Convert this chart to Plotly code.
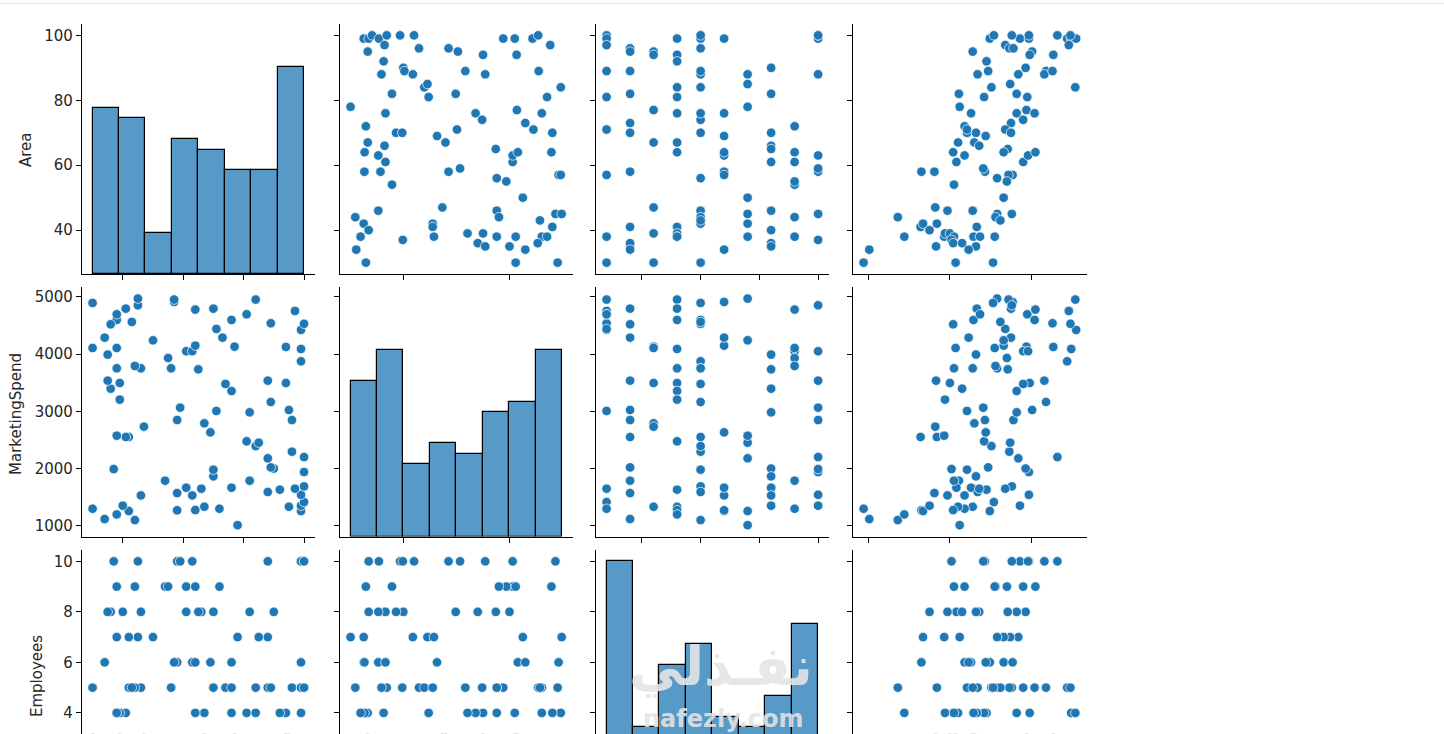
import numpy as np
import plotly.graph_objects as go

# Values read from the pairplot, one entry per row of the dataframe
area = [78, 99, 99, 100, 99, 63, 100, 100, 100, 97, 95, 96, 96, 95, 94, 94, 99, 99, 99, 100,
        97, 92, 90, 89, 88, 88, 89, 88, 89, 84, 85, 81, 82, 82, 84, 81, 76, 76, 74, 77,
        76, 72, 70, 70, 71, 69, 67, 73, 71, 70, 67, 66, 64, 61, 65, 61, 63, 64, 64, 58,
        58, 58, 59, 57, 57, 54, 56, 55, 50, 46, 47, 46, 45, 45, 44, 44, 38, 42, 41, 42,
        43, 41, 40, 38, 38, 39, 39, 38, 38, 38, 37, 36, 35, 35, 36, 34, 34, 30, 30, 30]
spend = [1010, 1257, 1350, 1414, 1541, 1530, 1688, 1939, 2201, 1647, 1332, 2294, 2848, 3023, 3495, 4125, 3874, 4090, 4423, 4530,
         4755, 1630, 2000, 2020, 1590, 2178, 3163, 3536, 4539, 2393, 2452, 2475, 2982, 1787, 4953, 4696, 1665, 3355, 3478, 4130,
         4597, 1297, 1863, 1980, 3006, 2632, 2790, 4288, 4440, 4795, 1332, 1647, 1274, 1665, 3734, 4050, 4050, 4148, 4778, 1270,
         1571, 2848, 3064, 4912, 4953, 1787, 3752, 3932, 4241, 1530, 2732, 3752, 4853, 4970, 1099, 3793, 4107, 2551, 2551, 1257,
         4562, 4795, 1350, 1198, 2574, 3204, 3495, 3752, 4597, 4696, 1990, 3396, 3536, 3991, 4521, 4288, 1117, 1297, 4107, 4894]
employees = [7, 6, 10, 1, 10, 6, 5, 10, 10, 1, 3, 5, 2, 2, 4, 3, 5, 4, 1, 5,
             1, 4, 8, 2, 5, 7, 5, 10, 1, 5, 7, 4, 8, 2, 4, 1, 6, 4, 5, 3,
             5, 9, 8, 5, 1, 6, 3, 2, 1, 2, 4, 8, 4, 8, 8, 9, 10, 6, 9, 6,
             2, 10, 10, 6, 1, 9, 5, 9, 7, 8, 3, 5, 10, 7, 5, 9, 9, 5, 2, 7,
             5, 4, 8, 4, 7, 4, 3, 4, 4, 1, 10, 8, 2, 8, 2, 6, 2, 1, 3, 5]
sales = [212, 249, 286, 254, 297, 218, 276, 297, 332, 268, 228, 273, 278, 301, 298, 327, 344, 349, 355, 348,
         346, 245, 293, 247, 234, 284, 318, 316, 326, 251, 274, 242, 282, 211, 354, 295, 226, 282, 290, 294,
         304, 218, 232, 221, 221, 244, 230, 275, 268, 275, 210, 236, 204, 208, 271, 290, 296, 266, 305, 165,
         181, 243, 241, 277, 272, 205, 258, 270, 266, 197, 182, 228, 276, 258, 136, 256, 255, 184, 164, 167,
         262, 233, 175, 144, 193, 194, 200, 205, 229, 237, 202, 215, 183, 232, 204, 223, 101, 94, 207, 253]

# Histogram bins and counts for the diagonal
area_edges = [30, 38.75, 47.5, 56.25, 65, 73.75, 82.5, 91.25, 100]
area_counts = [16, 15, 4, 13, 12, 10, 10, 20]
spend_edges = [1010, 1505.6, 2001.3, 2496.9, 2992.5, 3488.1, 3983.8, 4479.4, 4975]
spend_counts = [15, 18, 7, 9, 8, 12, 13, 18]
employees_edges = [1, 2.125, 3.25, 4.375, 5.5, 6.625, 7.75, 8.875, 10]
employees_counts = [23, 7, 13, 15, 8, 7, 10, 17]

columns = [
    {"name": "Area", "values": area, "range": [26.5, 103.5], "ticks": [40, 60, 80, 100],
     "edges": area_edges, "counts": area_counts},
    {"name": "MarketingSpend", "values": spend, "range": [812, 5173], "ticks": [1000, 2000, 3000, 4000, 5000],
     "xticks": [2000, 4000], "edges": spend_edges, "counts": spend_counts},
    {"name": "Employees", "values": employees, "range": [0.55, 10.45], "ticks": [4, 6, 8, 10],
     "xticks": [2.5, 5, 7.5, 10], "edges": employees_edges, "counts": employees_counts},
    {"name": "Sales", "values": sales, "range": [81, 368], "xticks": [100, 200, 300]},
]

# Panel positions in page pixels
W, H = 1444, 805
col_left = [82, 340, 596, 853]
col_right = [314.6, 572.5, 828.7, 1086.7]
row_top = [24, 287, 550]
row_bottom = [274, 536.5, 800]
title_x = [26, 16, 37]
title_y = [150, 414, 676]
count_top = 24.1

BLUE = "#1f77b4"
FONT = "DejaVu Sans"
INK = "#262626"
MARK = "rgba(228,228,228,0.9)"

fig = go.Figure()
layout = {}

for r in range(3):
    for c in range(4):
        idx = r * 4 + c + 1
        xcol, ycol = columns[c], columns[r]
        ydomain = [1 - row_bottom[r] / H, 1 - row_top[r] / H]
        axis = dict(showline=True, linecolor="black", linewidth=1.2, mirror=False, showgrid=False,
                    zeroline=False, ticks="outside", ticklen=5, tickwidth=1.1, tickcolor="black",
                    tickfont=dict(family=FONT, size=15, color=INK))
        layout[f"xaxis{idx}"] = dict(axis, domain=[col_left[c] / W, col_right[c] / W], range=xcol["range"],
                                     tickvals=xcol.get("xticks", xcol.get("ticks")), showticklabels=False,
                                     anchor=f"y{idx}")
        layout[f"yaxis{idx}"] = dict(axis, domain=ydomain, range=ycol["range"],
                                     tickvals=ycol["ticks"], showticklabels=c == 0, anchor=f"x{idx}")
        if r == c:
            # diagonal counts sit on their own hidden axis, an empty trace keeps the visible axis drawn
            layout[f"yaxis{idx + 20}"] = dict(overlaying=f"y{idx}", domain=ydomain, range=[0, count_top],
                                              visible=False, anchor=f"x{idx}")
            edges = np.array(xcol["edges"])
            fig.add_trace(go.Scatter(x=[None], y=[None], mode="markers", xaxis=f"x{idx}", yaxis=f"y{idx}"))
            fig.add_trace(go.Bar(x=(edges[:-1] + edges[1:]) / 2, y=xcol["counts"], width=np.diff(edges),
                                 xaxis=f"x{idx}", yaxis=f"y{idx + 20}",
                                 marker=dict(color="rgba(31,119,180,0.75)", line=dict(color="black", width=1.2))))
        else:
            fig.add_trace(go.Scatter(x=xcol["values"], y=ycol["values"], mode="markers",
                                     xaxis=f"x{idx}", yaxis=f"y{idx}",
                                     marker=dict(color=BLUE, size=9.5, line=dict(color="white", width=0.7))))

annotations = [
    dict(text=columns[r]["name"], x=title_x[r] / W, y=1 - title_y[r] / H, xref="paper", yref="paper",
         xanchor="center", yanchor="middle", textangle=-90, showarrow=False,
         font=dict(family=FONT, size=15, color=INK))
    for r in range(3)
]
# site watermark over the lower diagonal panel
annotations.append(dict(text="<b>نفـذلي</b>", x=721 / W, y=1 - 666 / H, xref="paper", yref="paper",
                        xanchor="center", yanchor="middle", showarrow=False,
                        font=dict(family=FONT, size=54, color=MARK)))
annotations.append(dict(text="<b>nafezly.com</b>", x=723 / W, y=1 - 719 / H, xref="paper", yref="paper",
                        xanchor="center", yanchor="middle", showarrow=False,
                        font=dict(family=FONT, size=24, color=MARK)))

fig.update_layout(
    **layout,
    width=W, height=H, autosize=False,
    margin=dict(l=0, r=0, t=0, b=0),
    paper_bgcolor="white", plot_bgcolor="white",
    showlegend=False, bargap=0,
    annotations=annotations,
    shapes=[dict(type="line", xref="paper", yref="paper", x0=0, x1=1, y0=1 - 3.3 / H, y1=1 - 3.3 / H,
                 line=dict(color="#e6e6e6", width=1))],
)

fig.write_html("out.html", config={"displayModeBar": False}, post_script="document.body.style.margin = '0';")
